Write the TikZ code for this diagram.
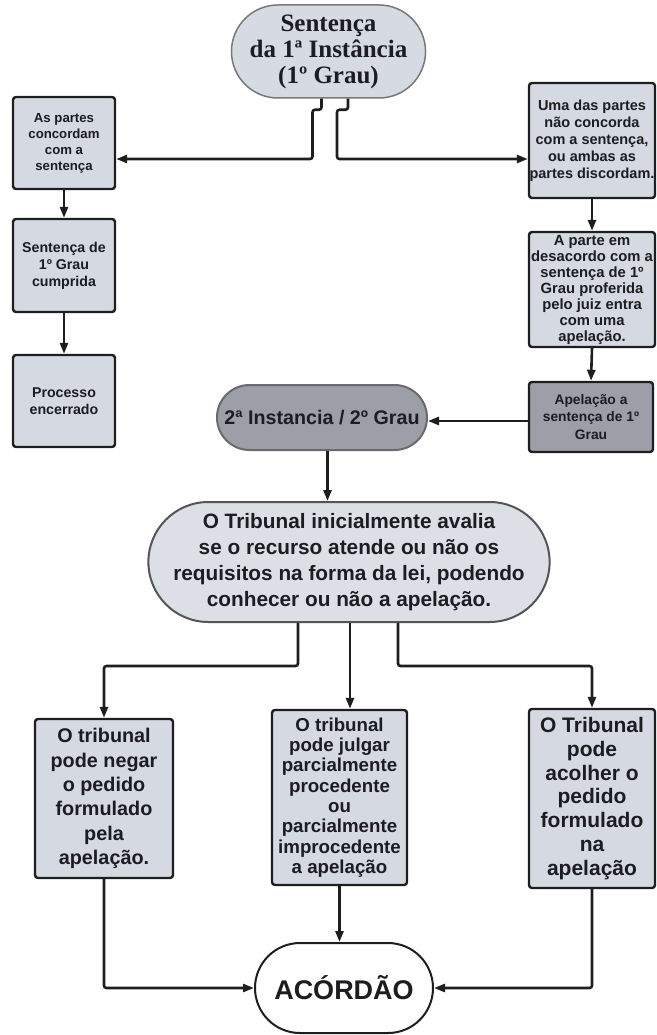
\documentclass[tikz,border=0pt]{standalone}
\usepackage{fontspec}
\setmainfont{Liberation Serif}
\setsansfont{Liberation Sans}
\usetikzlibrary{shapes.misc,arrows.meta,calc}

\definecolor{boxfill}{RGB}{213,217,225}
\definecolor{darkfill}{RGB}{156,159,168}
\definecolor{edge}{RGB}{30,30,30}
\definecolor{txt}{RGB}{28,28,33}
\definecolor{topfill}{RGB}{214,218,226}
\definecolor{tribfill}{RGB}{220,223,229}

\tikzset{
  rbox/.style={draw=edge, line width=2.4pt, rounded corners=3pt, fill=boxfill,
    align=center, inner sep=0pt, text=txt},
  stad/.style={rounded rectangle, align=center, inner sep=0pt, text=txt},
  conn/.style={line width=2.6pt, draw=edge, rounded corners=2.5pt,
    -{Triangle[length=11pt,width=8pt]}},
}
\newcommand{\sfb}[2]{\sffamily\bfseries\fontsize{#1}{#2}\selectfont}

\begin{document}
\begin{tikzpicture}[x=1pt,y=-1pt]
\useasboundingbox (0,0) rectangle (656,1035);

% top
\node[stad, fill=topfill, draw={rgb,255:red,120;green,120;blue,120}, line width=1.5pt,
  minimum width=167pt, minimum height=93pt,
  font={\rmfamily\bfseries\fontsize{25}{26}\selectfont}] (top) at (328.5,51.5)
  {Sentença\\da 1ª Instância\\(1º Grau)};

% left column
\node[rbox, minimum width=102pt, minimum height=92pt, font={\sfb{13.2}{16}}] (b1) at (64,143)
  {As partes\\concordam\\com a\\sentença};
\node[rbox, minimum width=102pt, minimum height=93pt, font={\sfb{14.2}{17}}] (b2) at (64,265.5)
  {Sentença de\\1º Grau\\cumprida};
\node[rbox, minimum width=102pt, minimum height=92pt, font={\sfb{14.2}{17}}] (b3) at (64,401)
  {Processo\\encerrado};

% right column
\node[rbox, minimum width=126pt, minimum height=115pt, font={\sfb{14.5}{17}}] (r1) at (592,140.5)
  {Uma das partes\\não concorda\\com a sentença,\\ou ambas as\\partes discordam.};
\node[rbox, minimum width=126pt, minimum height=115pt, font={\sfb{14.8}{16}}] (r2) at (592,289.5)
  {A parte em\\desacordo com a\\sentença de 1º\\Grau proferida\\pelo juiz entra\\com uma\\apelação.};
\node[rbox, fill=darkfill, minimum width=124pt, minimum height=70pt, font={\sfb{13.8}{17.5}}] (r3) at (591,417)
  {Apelação a\\sentença de 1º\\Grau};

% second instance
\node[stad, fill=darkfill, draw={rgb,255:red,105;green,105;blue,110}, line width=2pt,
  minimum width=210pt, minimum height=65pt, font={\sfb{19.7}{22}}] (inst2) at (322,417.5)
  {2ª Instancia / 2º Grau};

\node[stad, fill=tribfill, draw={rgb,255:red,85;green,85;blue,85}, line width=2pt,
  minimum width=382pt, minimum height=120pt, font={\sfb{20.8}{26}}] (trib) at (349,562)
  {O Tribunal inicialmente avalia\\se o recurso atende ou não os\\requisitos na forma da lei, podendo\\conhecer ou não a apelação.};

% bottom boxes
\node[rbox, minimum width=138pt, minimum height=159pt, font={\sfb{19.8}{24.4}}] (c1) at (104,798.5)
  {O tribunal\\pode negar\\o pedido\\formulado\\pela\\apelação.};
\node[rbox, minimum width=135pt, minimum height=175pt, font={\sfb{18.7}{20.3}}] (c2) at (339.5,797.5)
  {O tribunal\\pode julgar\\parcialmente\\procedente\\ou\\parcialmente\\improcedente\\a apelação};
\node[rbox, minimum width=126pt, minimum height=179pt, font={\sfb{21}{23.7}}] (c3) at (592,798.5)
  {O Tribunal\\pode\\acolher o\\pedido\\formulado\\na\\apelação};

\node[stad, fill=white, draw=edge, line width=2pt,
  minimum width=178pt, minimum height=90pt, font={\sfb{27}{30}}] (acord) at (344,988)
  {ACÓRDÃO};

% connectors
\draw[conn] ([xshift=-7pt]top.south) -- ++(0,11) -- ++(-9,0) |- ([yshift=-16pt]b1.east);
\draw[conn] ([xshift=19.5pt]top.south) -- ++(0,11) -- ++(-11,0) |- ([yshift=-18.5pt]r1.west);
\draw[conn] (b1.south) -- (b2.north);
\draw[conn] (b2.south) -- (b3.north);
\draw[conn] (r1.south) -- (r2.north);
\draw[conn] (r2.south) -- (r3.north);
\coordinate (a3) at ([yshift=-4pt]r3.west);
\draw[conn] (a3) -- (a3 -| inst2.east);
\coordinate (k1) at ([xshift=5.5pt]inst2.south);
\draw[conn] (k1) -- (k1 |- trib.north);
\coordinate (t1) at ([xshift=-51pt]trib.south);
\coordinate (t2) at ([xshift=1pt]trib.south);
\coordinate (t3) at ([xshift=49pt]trib.south);
\draw[conn] (t1) -- ++(0,43) -| (c1.north);
\draw[conn] (t2) -- (t2 |- c2.north);
\draw[conn] (t3) -- ++(0,43) -| (c3.north);
\draw[conn] (c1.south) |- (acord.west);
\draw[conn] (c2.south) -- (c2.south |- acord.north);
\draw[conn] (c3.south) |- (acord.east);
\end{tikzpicture}
\end{document}
